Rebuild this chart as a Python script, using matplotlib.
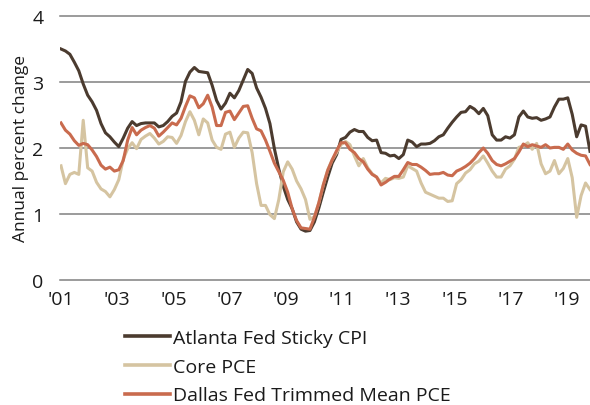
import numpy as np
import pandas as pd
import matplotlib
matplotlib.use("Agg")
import matplotlib.pyplot as plt

plt.rcParams['font.family'] = ['Open Sans', 'DejaVu Sans']

# ---- data (bimonthly readings, Jan 2001 .. late 2019) ----
dates = pd.date_range('2001-01-01', '2019-10-31', periods=120)

sticky_cpi = [3.50, 3.47, 3.42, 3.30, 3.17, 2.97, 2.80, 2.70, 2.57, 2.37, 2.23, 2.17, 2.09, 2.02, 2.15, 2.30, 2.40,
              2.34, 2.37, 2.38, 2.38, 2.38, 2.32, 2.34, 2.40, 2.48, 2.53, 2.70, 3.01, 3.15, 3.22, 3.16, 3.15, 3.14,
              2.95, 2.72, 2.59, 2.68, 2.83, 2.76, 2.87, 3.03, 3.19, 3.13, 2.91, 2.77, 2.60, 2.37, 1.99, 1.68, 1.42, 1.22,
              1.08, 0.88, 0.77, 0.74, 0.75, 0.88, 1.09, 1.33, 1.56, 1.77, 1.90, 2.13, 2.16, 2.24, 2.28, 2.25, 2.25,
              2.16, 2.11, 2.12, 1.93, 1.92, 1.88, 1.89, 1.84, 1.90, 2.12, 2.09, 2.02, 2.06, 2.06, 2.07, 2.11, 2.17,
              2.20, 2.30, 2.39, 2.47, 2.54, 2.55, 2.63, 2.59, 2.52, 2.60, 2.49, 2.20, 2.12, 2.12, 2.17, 2.15, 2.20,
              2.47, 2.56, 2.47, 2.45, 2.46, 2.42, 2.44, 2.47, 2.62, 2.74, 2.74, 2.76, 2.51, 2.17, 2.35, 2.33, 1.95]

core_pce = [1.73, 1.46, 1.60, 1.63, 1.60, 2.42, 1.70, 1.65, 1.48, 1.38, 1.34, 1.26, 1.37, 1.52, 1.83, 1.99, 2.08,
            1.99, 2.13, 2.18, 2.22, 2.15, 2.06, 2.10, 2.17, 2.16, 2.07, 2.19, 2.40, 2.55, 2.42, 2.20, 2.44, 2.38,
            2.12, 2.01, 1.98, 2.21, 2.24, 2.01, 2.15, 2.24, 2.23, 1.93, 1.46, 1.13, 1.13, 0.99, 0.93, 1.22, 1.64, 1.79,
            1.68, 1.50, 1.38, 1.22, 0.92, 0.96, 1.17, 1.44, 1.67, 1.82, 1.93, 2.05, 2.10, 2.05, 1.88, 1.73, 1.84,
            1.70, 1.61, 1.56, 1.47, 1.54, 1.52, 1.55, 1.54, 1.56, 1.73, 1.69, 1.65, 1.47, 1.33, 1.30, 1.27, 1.24,
            1.24, 1.19, 1.20, 1.46, 1.52, 1.62, 1.67, 1.76, 1.80, 1.88, 1.77, 1.65, 1.56, 1.56, 1.68, 1.73, 1.83,
            2.01, 2.03, 2.08, 1.98, 2.07, 1.76, 1.61, 1.65, 1.81, 1.61, 1.69, 1.84, 1.55, 0.95, 1.28, 1.47, 1.37]

trimmed_mean_pce = [2.38, 2.27, 2.21, 2.11, 2.04, 2.07, 2.05, 1.97, 1.87, 1.74, 1.68, 1.71, 1.65, 1.67, 1.81, 2.12, 2.31,
                    2.20, 2.27, 2.31, 2.34, 2.30, 2.18, 2.24, 2.31, 2.38, 2.35, 2.45, 2.63, 2.79, 2.76, 2.61, 2.67, 2.80,
                    2.62, 2.34, 2.34, 2.54, 2.56, 2.43, 2.53, 2.63, 2.64, 2.45, 2.29, 2.26, 2.12, 1.95, 1.77, 1.64, 1.51, 1.33,
                    1.08, 0.90, 0.79, 0.78, 0.77, 0.95, 1.17, 1.44, 1.66, 1.82, 1.96, 2.08, 2.08, 1.98, 1.93, 1.84, 1.79,
                    1.68, 1.60, 1.56, 1.44, 1.48, 1.53, 1.57, 1.57, 1.67, 1.78, 1.75, 1.75, 1.71, 1.66, 1.60, 1.61, 1.61,
                    1.63, 1.59, 1.58, 1.65, 1.68, 1.72, 1.77, 1.84, 1.93, 2.00, 1.92, 1.81, 1.75, 1.73, 1.76, 1.80, 1.84,
                    1.94, 2.06, 2.02, 2.05, 2.03, 2.01, 2.05, 2.00, 2.01, 2.01, 1.98, 2.06, 1.97, 1.92, 1.89, 1.88, 1.75]

tick_years = list(range(2001, 2020, 2))
tick_labels = ["'01", "'03", "'05", "'07", "'09", "'11", "'13", "'15", "'17", "'19"]
y_ticks = [0, 1, 2, 3, 4]

series_names = ['Atlanta Fed Sticky CPI', 'Core PCE', 'Dallas Fed Trimmed Mean PCE']
colors = ['#4b3b2f', '#d5c4a1', '#c96b4e']

# ---- figure ----
fig = plt.figure(figsize=(5.9, 4.06), dpi=100)
ax = fig.add_axes([60 / 590, 125 / 406, 530 / 590, 264 / 406])

for vals, name, col in zip([sticky_cpi, core_pce, trimmed_mean_pce], series_names, colors):
    ax.plot(dates, vals, color=col, lw=2.2, label=name, solid_joinstyle='round')

ax.set_ylim(0, 4)
ax.set_yticks(y_ticks)
ax.set_xlim(pd.Timestamp('2000-12-19'), dates[-1])
ax.set_xticks(pd.to_datetime([f'{y}-01-01' for y in tick_years]))
ax.set_xticklabels(tick_labels)

ax.grid(axis='y', color='#808080', lw=1.1)
for gl in ax.get_ygridlines():
    gl.set_clip_on(False)
ax.set_axisbelow(True)
for s in ax.spines.values():
    s.set_visible(False)

ax.tick_params(axis='both', length=0, labelsize=14, colors='#1a1a1a')
ax.tick_params(axis='y', pad=12)
ax.tick_params(axis='x', pad=7)

ax.set_ylabel('Annual percent change', fontsize=12.5, color='#1a1a1a')
ax.yaxis.set_label_coords(-0.058, 0.5)

leg = fig.legend(loc='upper left', bbox_to_anchor=(125 / 590, 0.188), frameon=False,
                 fontsize=14, handlelength=2.3, handletextpad=0.15, labelspacing=0.56,
                 borderpad=0, borderaxespad=0)
for h in leg.get_lines():
    h.set_linewidth(2.6)
for t in leg.get_texts():
    t.set_color('#1a1a1a')

fig.savefig('out.png', dpi=100)
